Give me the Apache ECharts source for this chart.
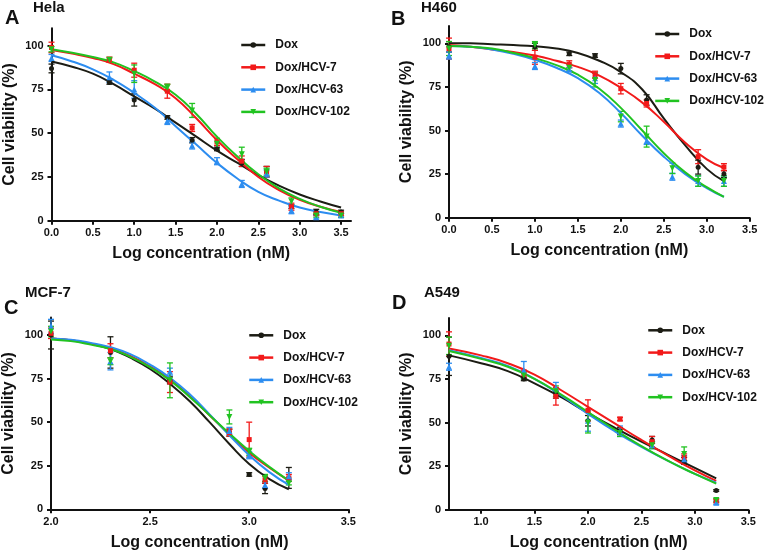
<!DOCTYPE html>
<html><head><meta charset="utf-8">
<script src="https://cdn.jsdelivr.net/npm/echarts@6/dist/echarts.min.js"></script>
<style>html,body{margin:0;padding:0;background:#fff}#c{width:768px;height:554px}</style>
</head><body><div id="c"></div>
<script>
// ---------- shared labels ----------
const seriesNames = ['Dox', 'Dox/HCV-7', 'Dox/HCV-63', 'Dox/HCV-102'];
const panelLetters = ['A', 'B', 'C', 'D'];
const panelTitles = ['Hela', 'H460', 'MCF-7', 'A549'];
const yTicks = [0, 25, 50, 75, 100];
const xTicksA = [0, 0.5, 1.0, 1.5, 2.0, 2.5, 3.0, 3.5];
const xTicksB = [0, 0.5, 1.0, 1.5, 2.0, 2.5, 3.0, 3.5];
const xTicksC = [2.0, 2.5, 3.0, 3.5];
const xTicksD = [1.0, 1.5, 2.0, 2.5, 3.0, 3.5];
const yAxisTitle = 'Cell viability (%)';
const xAxisTitle = 'Log concentration (nM)';

// ---------- Panel A: Hela ----------
const helaX = [0, 0.7, 1.0, 1.4, 1.7, 2.0, 2.3, 2.6, 2.9, 3.2, 3.5];
const helaDox = [87, 79, 69, 59, 46, 41, 33, 28, 8, 5, 5];
const helaDoxErr = [2.5, 1, 3.5, 1, 1.5, 1, 2, 3, 1, 1.5, 1];
const helaH7 = [99, 92, 86, 74, 53, 45, 34, 28, 8, 4, 4];
const helaH7Err = [3, 1.5, 4, 4, 2, 2, 3, 3, 2, 1, 1];
const helaH63 = [93, 82, 75, 57, 43, 34, 21, 27, 6, 2, 3];
const helaH63Err = [2, 3, 5, 2, 2, 2, 2, 2, 2, 1, 1];
const helaH102 = [98, 92, 84, 76, 63, 44, 38, 28, 11, 3, 3];
const helaH102Err = [1.5, 1, 5, 2, 4, 3, 4, 2, 2, 1, 1];
const helaFitX = [0, 0.25, 0.5, 0.75, 1.0, 1.25, 1.5, 1.75, 2.0, 2.25, 2.5, 2.75, 3.0, 3.25, 3.5];
const helaDoxFit = [91, 88, 84, 78, 71, 64, 56, 48, 40, 33, 26, 20, 15, 11, 7.5];
const helaH7Fit = [97.5, 95.5, 93, 89.5, 84, 78, 70, 58.5, 46, 35, 25, 17.5, 12, 8, 5];
const helaH63Fit = [94.5, 91, 86.5, 80.5, 73, 64.5, 54, 43.5, 33, 24, 16.5, 11.5, 7.5, 5, 3];
const helaH102Fit = [98, 96, 93.5, 90.5, 85.5, 79.5, 72, 61, 48, 36.5, 26.5, 18.5, 12.5, 8, 4.5];

// ---------- Panel B: H460 ----------
const h460X = [0, 1.0, 1.4, 1.7, 2.0, 2.3, 2.6, 2.9, 3.2];
const h460Dox = [98, 98, 94, 93, 85.5, 67.5, null, 29, 25];
const h460DoxErr = [3, 2, 1, 1, 3, 3, null, 4, 2];
const h460H7 = [97, 92, 88, 82, 74, 65.5, null, 35, 29];
const h460H7Err = [6, 4, 2, 2, 3, 2, null, 4, 2];
const h460H63 = [93, 87, 85, 80, 54, 44, 23.5, 21, 21];
const h460H63Err = [2, 2, 1, 3, 2, 2, 2, 3, 3];
const h460H102 = [97, 99, 86, 79, 58, 46.5, 28.3, 21, 21];
const h460H102Err = [4, 2, 2, 4, 3, 6, 3, 3, 3];
const h460FitX = [0, 0.25, 0.5, 0.75, 1.0, 1.25, 1.5, 1.75, 2.0, 2.25, 2.5, 2.75, 3.0, 3.2];
const h460DoxFit = [100, 100, 99.5, 99, 98.3, 97, 94.5, 90, 83.5, 73.5, 57, 41.5, 28, 21];
const h460H7Fit = [99, 98, 96.5, 95, 93, 90, 86.5, 81.5, 74.5, 66, 55, 43, 33.5, 28.5];
const h460H63Fit = [98.5, 98, 96.5, 94, 90.5, 86, 80, 71.5, 60, 47, 35, 25, 17, 12];
const h460H102Fit = [98.5, 98, 97, 94.5, 91.5, 87.5, 82, 74, 63, 50, 37, 26, 17.5, 12];

// ---------- Panel C: MCF-7 ----------
const mcfX = [2.0, 2.3, 2.6, 2.9, 3.0, 3.08, 3.2];
const mcfDox = [100, 90, 74, 44, 20, 12, 18];
const mcfDoxErr = [8, 9, 2, 2, 1, 3, 6];
const mcfH7 = [101, 91, 73, 44, 40, 17, 18];
const mcfH7Err = [3, 4, 6, 2, 10, 2, 2];
const mcfH63 = [105, 85, 79, 45, 31, 14, 19];
const mcfH63Err = [4, 5, 2, 2, 2, 2, 2];
const mcfH102 = [102, 85, 74, 53, 33, 18, 15];
const mcfH102Err = [3, 2, 10, 4, 2, 2, 1];
const mcfFitX = [2.0, 2.1, 2.2, 2.3, 2.4, 2.5, 2.6, 2.7, 2.8, 2.9, 3.0, 3.1, 3.2];
const mcfDoxFit = [98, 97, 95, 92, 87, 80.5, 72, 62, 50, 37.5, 26, 17.5, 11.5];
const mcfH7Fit = [98, 97, 95, 92.5, 88, 82, 74.5, 65, 54, 43, 32.5, 24, 16.5];
const mcfH63Fit = [98, 97.3, 95.5, 93, 89, 83, 75.5, 66, 54.5, 42.5, 31, 21.5, 14];
const mcfH102Fit = [97.5, 96.5, 94.5, 92, 87.5, 81.5, 74, 64.5, 54, 43.5, 33.5, 24.5, 16.5];

// ---------- Panel D: A549 ----------
const a549X = [0.7, 1.4, 1.7, 2.0, 2.3, 2.6, 2.9, 3.2];
const a549Dox = [88, 75, 66, 51, 45, 40, 28, 11];
const a549DoxErr = [11, 1, 2, 3, 2, 2, 2, 0.5];
const a549H7 = [95, 78, 65, 57, 52, 39, 30, 5];
const a549H7Err = [7, 2, 5, 6, 1, 3, 2, 1];
const a549H63 = [82, 80, 70, 51, 45, 37, 29, 4];
const a549H63Err = [2, 5, 3, 6, 3, 2, 2, 1];
const a549H102 = [94, 77, 68, 50, 44, 37, 32, 5.5];
const a549H102Err = [5, 2, 3, 6, 2, 2, 4, 1];
const a549FitX = [0.7, 1.0, 1.25, 1.5, 1.75, 2.0, 2.25, 2.5, 2.75, 3.0, 3.2];
const a549DoxFit = [88.5, 84, 79.5, 72.5, 64.5, 55.5, 47, 39, 31.5, 24, 18];
const a549H7Fit = [92.5, 88.5, 84, 77.5, 68.5, 59, 49.5, 40, 31, 22.5, 16.5];
const a549H63Fit = [91.5, 87, 82.5, 75, 65.5, 55, 45, 36, 28, 20.5, 15.5];
const a549H102Fit = [91, 86.5, 82, 75, 66, 56, 46, 36.5, 28, 20.5, 15];

// ---------- assemble ----------
const panels = [
  {x: helaX, means: [helaDox, helaH7, helaH63, helaH102], errs: [helaDoxErr, helaH7Err, helaH63Err, helaH102Err],
   fitX: helaFitX, fits: [helaDoxFit, helaH7Fit, helaH63Fit, helaH102Fit], xTicks: xTicksA},
  {x: h460X, means: [h460Dox, h460H7, h460H63, h460H102], errs: [h460DoxErr, h460H7Err, h460H63Err, h460H102Err],
   fitX: h460FitX, fits: [h460DoxFit, h460H7Fit, h460H63Fit, h460H102Fit], xTicks: xTicksB},
  {x: mcfX, means: [mcfDox, mcfH7, mcfH63, mcfH102], errs: [mcfDoxErr, mcfH7Err, mcfH63Err, mcfH102Err],
   fitX: mcfFitX, fits: [mcfDoxFit, mcfH7Fit, mcfH63Fit, mcfH102Fit], xTicks: xTicksC},
  {x: a549X, means: [a549Dox, a549H7, a549H63, a549H102], errs: [a549DoxErr, a549H7Err, a549H63Err, a549H102Err],
   fitX: a549FitX, fits: [a549DoxFit, a549H7Fit, a549H63Fit, a549H102Fit], xTicks: xTicksD}
];

// layout / style (not data)
const layouts = [
  {left: 51.5, right: 417, top: 28.2, bottom: 333.3, xmin: 0, xmax: 3.62, lgLeft: 240, lgTop: 39,
   letter: [5, 8], title: [33, 0]},
  {left: 449, right: 18.3, top: 25.9, bottom: 336.3, xmin: 0, xmax: 3.5, lgLeft: 654, lgTop: 28,
   letter: [391, 9], title: [421, 0]},
  {left: 50, right: 419.7, top: 317.6, bottom: 44.7, xmin: 2, xmax: 3.5, lgLeft: 248, lgTop: 329.3,
   letter: [4, 298], title: [25, 285.7]},
  {left: 449, right: 19.7, top: 317.9, bottom: 44.3, xmin: 0.7, xmax: 3.5, lgLeft: 647, lgTop: 324.3,
   letter: [392, 293], title: [424, 285.7]}
];
const colors = ['#1c1c14', '#f21a1a', '#2d8df0', '#21c321'];
const symbols = ['circle', 'rect', 'triangle', 'triangle'];
const symbolRot = [0, 0, 0, 180];
const symSize = [5, 5, 6, 6];
const FONT = 'Liberation Sans, Arial, sans-serif';
const AX = '#111';

const grid = [], xAxis = [], yAxis = [], legend = [], lineSeries = [], pointSeries = [], errSeries = [], graphic = [];

panels.forEach((p, i) => {
  const L = layouts[i];
  grid.push({left: L.left, right: L.right, top: L.top, bottom: L.bottom, containLabel: false});
  xAxis.push({
    type: 'value', gridIndex: i, min: L.xmin, max: L.xmax,
    name: xAxisTitle, nameLocation: 'middle', nameGap: 25,
    nameTextStyle: {fontFamily: FONT, fontWeight: 'bold', fontSize: 16, color: AX},
    axisLine: {show: true, onZero: false, lineStyle: {color: AX, width: 2}},
    axisTick: {show: true, length: 4, lineStyle: {color: AX, width: 2}, customValues: p.xTicks},
    axisLabel: {fontFamily: FONT, fontWeight: 'bold', fontSize: 11, color: AX, margin: 7,
      customValues: p.xTicks, formatter: v => Number(v).toFixed(1)},
    splitLine: {show: false}
  });
  yAxis.push({
    type: 'value', gridIndex: i, min: 0, max: 110,
    name: yAxisTitle, nameLocation: 'middle', nameGap: 34, nameRotate: 90,
    nameTextStyle: {fontFamily: FONT, fontWeight: 'bold', fontSize: 16, color: AX},
    axisLine: {show: true, onZero: false, lineStyle: {color: AX, width: 2}},
    axisTick: {show: true, length: 4, lineStyle: {color: AX, width: 2}, customValues: yTicks},
    axisLabel: {fontFamily: FONT, fontWeight: 'bold', fontSize: 11, color: AX, margin: 8, customValues: yTicks},
    splitLine: {show: false}
  });
  legend.push({
    data: seriesNames, orient: 'vertical', left: L.lgLeft, top: L.lgTop, itemGap: 10.3,
    itemWidth: 24, itemHeight: 7, padding: 0, selectedMode: false,
    lineStyle: {width: 2.5},
    textStyle: {fontFamily: FONT, fontWeight: 'bold', fontSize: 12, color: AX, padding: [0, 0, 0, 5]}
  });
  graphic.push({type: 'text', left: L.letter[0], top: L.letter[1],
    style: {text: panelLetters[i], font: 'bold 20px ' + FONT, fill: AX}});
  graphic.push({type: 'text', left: L.title[0], top: L.title[1],
    style: {text: panelTitles[i], font: 'bold 15px ' + FONT, fill: AX}});

  seriesNames.forEach((nm, k) => {
    const pts = [], bars = [];
    p.x.forEach((x, j) => {
      const m = p.means[k][j];
      if (m === null || m === undefined) return;
      pts.push([x, m]);
      bars.push([x, m - p.errs[k][j], m + p.errs[k][j]]);
    });
    lineSeries.push({
      type: 'line', name: nm, xAxisIndex: i, yAxisIndex: i,
      data: p.fitX.map((x, j) => [x, p.fits[k][j]]),
      smooth: 0.5, showSymbol: false,
      symbol: symbols[k], symbolRotate: symbolRot[k], symbolSize: symSize[k],
      lineStyle: {color: colors[k], width: 2}, itemStyle: {color: colors[k]},
      z: 3, silent: true, animation: false
    });
    pointSeries.push({
      type: 'scatter', name: nm, xAxisIndex: i, yAxisIndex: i, data: pts,
      symbol: symbols[k], symbolRotate: symbolRot[k], symbolSize: symSize[k],
      itemStyle: {color: colors[k], opacity: 1}, z: 4, silent: true, animation: false
    });
    errSeries.push({
      type: 'custom', name: nm, xAxisIndex: i, yAxisIndex: i, data: bars,
      encode: {x: 0, y: [1, 2]}, clip: false, z: 2, silent: true, animation: false,
      renderItem: (params, api) => {
        const xv = api.value(0);
        const a = api.coord([xv, api.value(2)]);
        const b = api.coord([xv, api.value(1)]);
        const w = 3;
        const st = {stroke: colors[k], lineWidth: 1.3};
        return {type: 'group', children: [
          {type: 'line', shape: {x1: a[0], y1: a[1], x2: b[0], y2: b[1]}, style: st},
          {type: 'line', shape: {x1: a[0] - w, y1: a[1], x2: a[0] + w, y2: a[1]}, style: st},
          {type: 'line', shape: {x1: b[0] - w, y1: b[1], x2: b[0] + w, y2: b[1]}, style: st}
        ]};
      }
    });
  });
});

const chart = echarts.init(document.getElementById('c'), null, {renderer: 'canvas'});
chart.setOption({
  backgroundColor: '#fff',
  animation: false,
  grid, xAxis, yAxis, legend, graphic,
  series: [...lineSeries, ...errSeries, ...pointSeries]
});
</script>
</body></html>
